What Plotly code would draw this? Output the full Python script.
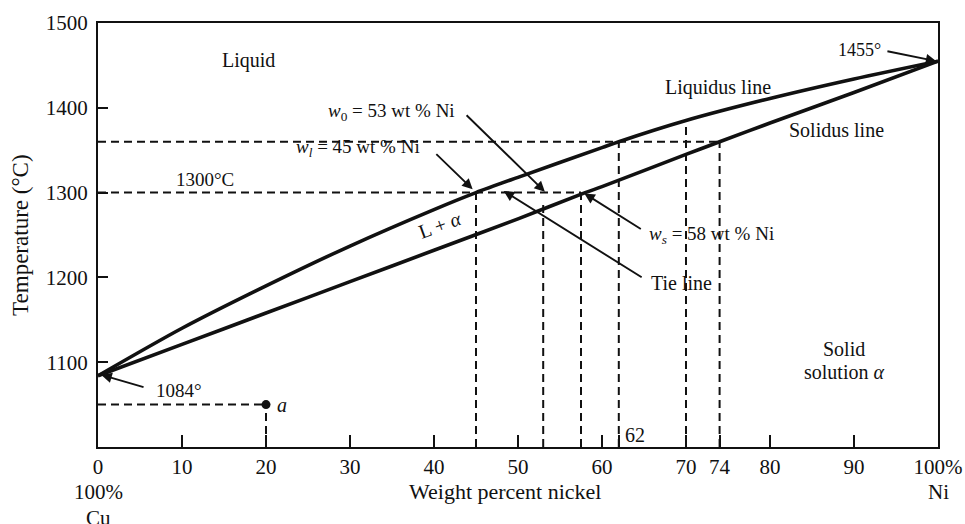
import plotly.graph_objects as go

# ---- data ----
liquidus_x = [0, 10, 20, 30, 40, 45, 50, 60, 62, 70, 80, 90, 100]
liquidus_T = [1084, 1140, 1190, 1237, 1280, 1300, 1318, 1353, 1360, 1385, 1411, 1434, 1455]
solidus_x = [0, 10, 20, 30, 40, 50, 58, 60, 70, 74, 80, 90, 100]
solidus_T = [1084, 1121, 1158, 1195, 1232, 1269, 1300, 1307, 1345, 1360, 1382, 1418, 1455]

# guide lines: (composition, temperature reached)
vert_x = [45, 53, 57.5, 62, 70, 74, 20]
vert_top = [1300, 1288, 1300, 1360, 1385, 1360, 1050]
horiz_T = [1360, 1300, 1050]
horiz_end = [74, 57.5, 20]

point_a = (20, 1050)

x_tickvals = [0, 10, 20, 30, 40, 50, 60, 62, 70, 74, 80, 90, 100]
x_ticktext = ["0", "10", "20", "30", "40", "50", "60", "", "70", "74", "80", "90", "100%"]
y_tickvals = [1100, 1200, 1300, 1400, 1500]

FONT = "Liberation Serif"
BLACK = "#111111"

fig = go.Figure()

# dashed guide lines
for xv, top in zip(vert_x, vert_top):
    fig.add_trace(go.Scatter(x=[xv, xv], y=[1000, top], mode="lines",
                             line=dict(color=BLACK, width=2, dash="8px,5px"),
                             hoverinfo="skip", showlegend=False))
for tv, xe in zip(horiz_T, horiz_end):
    fig.add_trace(go.Scatter(x=[0, xe], y=[tv, tv], mode="lines",
                             line=dict(color=BLACK, width=2, dash="8px,5px"),
                             hoverinfo="skip", showlegend=False))

# phase boundaries
fig.add_trace(go.Scatter(x=liquidus_x, y=liquidus_T, mode="lines",
                         line=dict(color=BLACK, width=3.6, shape="spline", smoothing=0.8),
                         showlegend=False))
fig.add_trace(go.Scatter(x=solidus_x, y=solidus_T, mode="lines",
                         line=dict(color=BLACK, width=3.6, shape="spline", smoothing=0.8),
                         showlegend=False))

# point a
fig.add_trace(go.Scatter(x=[point_a[0]], y=[point_a[1]], mode="markers",
                         marker=dict(color=BLACK, size=9), showlegend=False))

ann = []
def txt(x, y, s, size=20, xanchor="center", angle=0, xref="x", yref="y"):
    ann.append(dict(x=x, y=y, text=s, showarrow=False, xref=xref, yref=yref,
                    xanchor=xanchor, yanchor="middle", textangle=angle,
                    font=dict(family=FONT, size=size, color=BLACK)))

def arrow(x0, y0, x1, y1):
    ann.append(dict(x=x1, y=y1, ax=x0, ay=y0, xref="x", yref="y", axref="x", ayref="y",
                    text="", showarrow=True, arrowhead=2, arrowsize=1.1,
                    arrowwidth=1.9, arrowcolor=BLACK))

txt(17.9, 1456, "Liquid")
txt(73.8, 1424, "Liquidus line")
txt(87.9, 1374, "Solidus line")
txt(88.8, 1116, "Solid")
txt(88.8, 1088, "solution <i>α</i>")
txt(12.7, 1315, "1300°C", size=19)
txt(90.6, 1468, "1455°", size=18)
arrow(93.8, 1467, 99.8, 1455)
txt(9.6, 1067, "1084°", size=19)
arrow(5.6, 1070, 0.4, 1085)
txt(34.9, 1395, "<i>w</i><sub>0</sub> = 53 wt % Ni", size=19)
arrow(43.7, 1393, 53.2, 1301)
txt(31.0, 1353, "<i>w<sub>l</sub></i> = 45 wt % Ni", size=19)
arrow(40.1, 1347, 44.6, 1304)
txt(65.4, 1250, "<i>w<sub>s</sub></i> = 58 wt % Ni", size=19, xanchor="left")
arrow(64.8, 1256, 57.9, 1299)
txt(65.6, 1193, "Tie line", xanchor="left")
arrow(64.9, 1199, 48.3, 1302)
txt(40.7, 1262, "L + <i>α</i>", angle=-20)
txt(21.1, 1050, "<i>a</i>", xanchor="left")
txt(62.5, 1014, "62", xanchor="left")

# axis titles and extra tick text
txt(-0.093, 0.5, "Temperature (°C)", size=23, angle=-90, xref="paper", yref="paper")
txt(0.4845, -0.106, "Weight percent nickel", size=22, xref="paper", yref="paper")
txt(0.0, -0.106, "100%", size=21, xref="paper", yref="paper")
txt(0.0, -0.167, "Cu", size=21, xref="paper", yref="paper")
txt(1.0, -0.106, "Ni", size=21, xref="paper", yref="paper")

fig.update_layout(
    width=965, height=524,
    margin=dict(l=98, r=27, t=23, b=77),
    paper_bgcolor="white", plot_bgcolor="white",
    annotations=ann,
    font=dict(family=FONT, color=BLACK),
    xaxis=dict(range=[0, 100], tickvals=x_tickvals, ticktext=x_ticktext,
               ticks="inside", ticklen=12, tickwidth=2, tickcolor=BLACK,
               showline=True, linecolor=BLACK, linewidth=2.2, mirror=True,
               showgrid=False, zeroline=False, automargin=False,
               tickfont=dict(family=FONT, size=21, color=BLACK)),
    yaxis=dict(range=[1000, 1500], tickvals=y_tickvals,
               ticks="inside", ticklen=10, tickwidth=2, tickcolor=BLACK,
               showline=True, linecolor=BLACK, linewidth=2.2, mirror=True,
               showgrid=False, zeroline=False, automargin=False,
               ticklabelstandoff=4,
               tickfont=dict(family=FONT, size=21, color=BLACK)),
)

fig.write_html("out.html", config={"displayModeBar": False},
               post_script="document.body.style.margin='0';document.body.style.overflow='hidden';")
